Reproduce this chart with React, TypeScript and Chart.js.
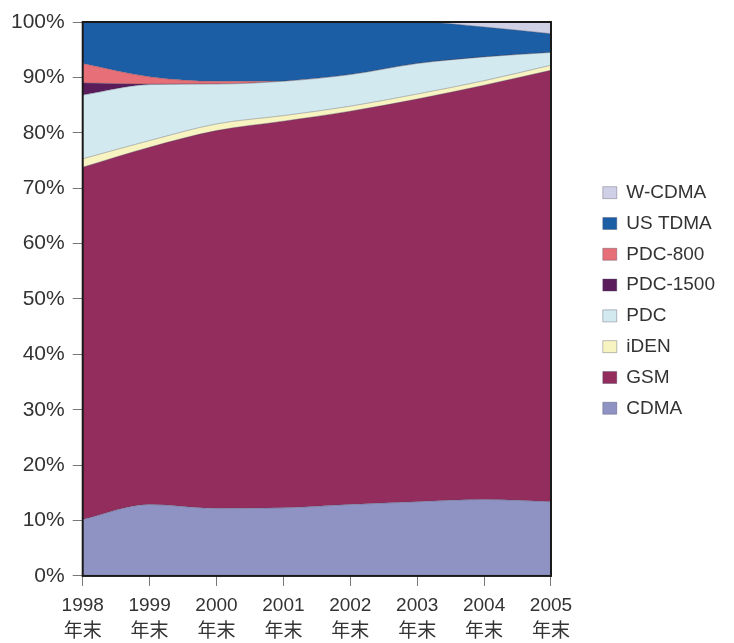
import { useEffect, useRef } from 'react';
import { Chart, registerables } from 'chart.js';

Chart.register(...registerables);

const years = ['1998', '1999', '2000', '2001', '2002', '2003', '2004', '2005'];
const yearSuffix = '年末';
const yTicks = [0, 10, 20, 30, 40, 50, 60, 70, 80, 90, 100];

// Shares in percent, stacked bottom to top
const cdma = [10.2, 12.9, 12.2, 12.3, 12.9, 13.4, 13.8, 13.4];
const gsm = [63.6, 64.5, 68.2, 69.8, 71.0, 72.7, 74.8, 77.9];
const iden = [1.5, 1.2, 1.2, 1.0, 0.9, 0.9, 0.8, 0.9];
const pdc = [11.5, 10.1, 7.2, 6.2, 5.7, 5.5, 4.3, 2.3];
const pdc1500 = [2.2, 0.1, 0, 0, 0, 0, 0, 0];
const pdc800 = [3.5, 1.3, 0.5, 0, 0, 0, 0, 0];
const usTdma = [7.5, 9.9, 10.7, 10.7, 9.5, 7.5, 5.4, 3.4];
const wCdma = [0, 0, 0, 0, 0, 0, 0.9, 2.1];

const seriesNames = ['CDMA', 'GSM', 'iDEN', 'PDC', 'PDC-1500', 'PDC-800', 'US TDMA', 'W-CDMA'];
const seriesData = [cdma, gsm, iden, pdc, pdc1500, pdc800, usTdma, wCdma];
const seriesColors = ['#8f93c3', '#922d5d', '#f7f4c2', '#d3e9f0', '#5b1c5c', '#e66f78', '#1c5ea6', '#cfcfe6'];

const FONT = '"Liberation Sans", "Noto Sans CJK SC", Arial, sans-serif';

export default function App() {
  const ref = useRef<HTMLCanvasElement>(null);

  useEffect(() => {
    if (!ref.current) return;

    const framePlugin = {
      id: 'frame',
      afterDatasetsDraw(chart: any) {
        const { ctx, chartArea: a } = chart;
        ctx.save();
        ctx.strokeStyle = '#1a1a1a';
        ctx.lineWidth = 2;
        ctx.strokeRect(a.left, a.top, a.right - a.left, a.bottom - a.top);
        ctx.restore();
      },
    };

    const legendShift = {
      id: 'legendShift',
      afterLayout(chart: any) {
        const l = chart.legend;
        if (!l) return;
        l.left += 40;
        l.right += 40;
        l.top += 1.5;
        l.bottom += 1.5;
      },
    };

    const chart = new Chart(ref.current, {
      type: 'line',
      data: {
        labels: years.map((y) => [y, yearSuffix]),
        datasets: seriesNames.map((name, i) => ({
          label: name,
          data: seriesData[i],
          backgroundColor: seriesColors[i],
          borderColor: 'rgba(70,70,90,0.45)',
          borderWidth: 0.8,
          fill: i === 0 ? 'origin' : '-1',
          pointRadius: 0,
          pointHoverRadius: 0,
          cubicInterpolationMode: 'monotone' as const,
        })),
      },
      options: {
        responsive: false,
        animation: false,
        layout: { padding: { left: 3, right: 49, top: 22, bottom: -9 } },
        plugins: {
          legend: {
            position: 'right',
            fullSize: false,
            reverse: true,
            labels: {
              boxWidth: 14,
              boxHeight: 12,
              padding: 11.8,
              color: '#333',
              font: { family: FONT, size: 19 },
            },
          },
          tooltip: { enabled: false },
        },
        scales: {
          x: {
            type: 'category',
            offset: false,
            border: { display: false },
            grid: {
              display: true,
              drawOnChartArea: false,
              drawTicks: true,
              tickLength: 10,
              color: '#777',
            },
            ticks: {
              color: '#333',
              padding: 7,
              maxRotation: 0,
              autoSkip: false,
              font: { family: FONT, size: 19, lineHeight: 1.37 },
            },
          },
          y: {
            stacked: true,
            min: 0,
            max: 100,
            border: { display: false },
            grid: {
              display: true,
              drawOnChartArea: false,
              drawTicks: true,
              tickLength: 10,
              color: '#777',
            },
            afterBuildTicks(scale: any) {
              scale.ticks = yTicks.map((v) => ({ value: v }));
            },
            ticks: {
              color: '#333',
              padding: 8,
              font: { family: FONT, size: 21 },
              callback: (v: any) => `${v}%`,
            },
          },
        },
      },
      plugins: [framePlugin, legendShift],
    });

    return () => chart.destroy();
  }, []);

  return (
    <div style={{ position: 'absolute', left: 0, top: 0, width: 734, height: 643, background: '#fff' }}>
      <canvas ref={ref} width={734} height={643} style={{ width: '734px', height: '643px', display: 'block' }} />
    </div>
  );
}
